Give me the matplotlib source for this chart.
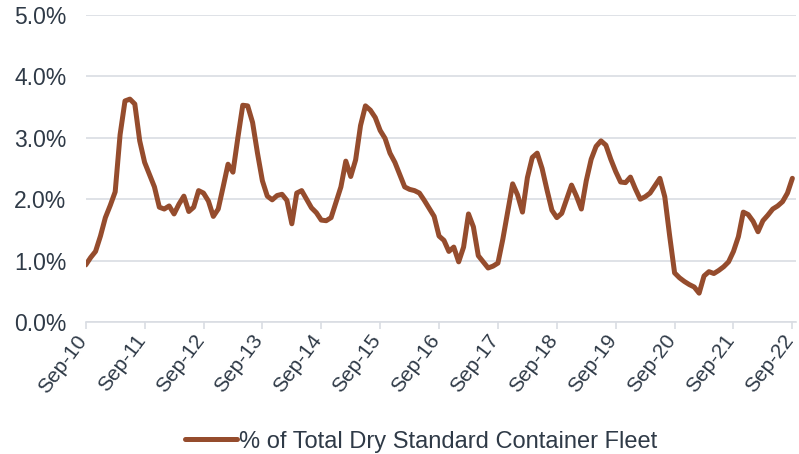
import numpy as np
import matplotlib
matplotlib.use("Agg")
import matplotlib.pyplot as plt
from matplotlib.ticker import FuncFormatter
from matplotlib.transforms import ScaledTranslation

plt.rcParams.update({"font.family": ["Liberation Sans", "DejaVu Sans"], "font.size": 16})

BROWN, GRID, TXT = "#954C2D", "#D9DDE3", "#2F3A47"

# monthly share (%), Sep-10 .. Sep-22
share = [
    0.93, 1.05, 1.15, 1.40, 1.70, 1.90, 2.12, 3.05, 3.60, 3.63, 3.55, 2.95,
    2.60, 2.40, 2.20, 1.87, 1.84, 1.89, 1.76, 1.92, 2.05, 1.80, 1.87, 2.14,
    2.10, 1.97, 1.72, 1.84, 2.20, 2.57, 2.44, 3.00, 3.53, 3.52, 3.25, 2.75,
    2.30, 2.05, 1.99, 2.06, 2.08, 1.98, 1.60, 2.10, 2.14, 2.00, 1.86, 1.78,
    1.66, 1.65, 1.70, 1.95, 2.20, 2.62, 2.37, 2.64, 3.20, 3.52, 3.45, 3.33,
    3.12, 2.99, 2.75, 2.60, 2.40, 2.20, 2.16, 2.14, 2.10, 1.98, 1.85, 1.72,
    1.40, 1.33, 1.15, 1.22, 0.98, 1.22, 1.76, 1.55, 1.08, 0.98, 0.88, 0.91,
    0.96, 1.35, 1.80, 2.25, 2.07, 1.79, 2.35, 2.68, 2.75, 2.50, 2.15, 1.82,
    1.70, 1.77, 2.00, 2.23, 2.05, 1.84, 2.30, 2.65, 2.86, 2.95, 2.88, 2.65,
    2.45, 2.28, 2.27, 2.36, 2.17, 2.00, 2.04, 2.10, 2.22, 2.34, 2.04, 1.40,
    0.80, 0.72, 0.66, 0.61, 0.57, 0.47, 0.75, 0.82, 0.79, 0.84, 0.90, 0.98,
    1.15, 1.39, 1.79, 1.75, 1.64, 1.47, 1.65, 1.74, 1.84, 1.89, 1.96, 2.10,
    2.34,
]
tick_labels = ["Sep-10", "Sep-11", "Sep-12", "Sep-13", "Sep-14", "Sep-15", "Sep-16",
               "Sep-17", "Sep-18", "Sep-19", "Sep-20", "Sep-21", "Sep-22"]

x = np.arange(len(share))
y = np.array(share) / 100
tick_pos = np.arange(0, 145, 12)

fig = plt.figure(figsize=(7.99, 4.54), dpi=100)
ax = fig.add_axes([0.1073, 0.2907, 0.889, 0.6763])
ax.plot(x, y, color=BROWN, lw=3.6, solid_joinstyle="round", solid_capstyle="round",
        label="% of Total Dry Standard Container Fleet")

ax.set_xlim(0, 144.75)
ax.set_ylim(0, 0.05)
ax.set_yticks(np.arange(0, 0.051, 0.01))
ax.yaxis.set_major_formatter(FuncFormatter(lambda v, p: f"{v*100:.1f}%"))
ax.set_xticks(tick_pos)
ax.set_xticklabels([])

# rotated date labels, anchored just below each tick
tr = ax.get_xaxis_transform() + ScaledTranslation(-3 / 100, -15 / 100, fig.dpi_scale_trans)
for p, lab in zip(tick_pos, tick_labels):
    ax.text(p, 0, lab, transform=tr, rotation=53, ha="right", va="center",
            rotation_mode="anchor", fontsize=15, color=TXT, clip_on=False)

ax.grid(axis="y", color=GRID, lw=1.2)
ax.set_axisbelow(True)
for s in ["top", "right", "left"]:
    ax.spines[s].set_visible(False)
ax.spines["bottom"].set_color(GRID)
ax.spines["bottom"].set_linewidth(1.2)
ax.tick_params(axis="y", length=0, pad=14, colors=TXT, labelsize=16.5)
ax.tick_params(axis="x", length=5, width=1.2, color=GRID)

fig.legend(loc="center", bbox_to_anchor=(0.527, 0.027), frameon=False, fontsize=17,
           handlelength=2.2, handletextpad=0.1, labelcolor=TXT)

fig.savefig("out.png", dpi=100)
